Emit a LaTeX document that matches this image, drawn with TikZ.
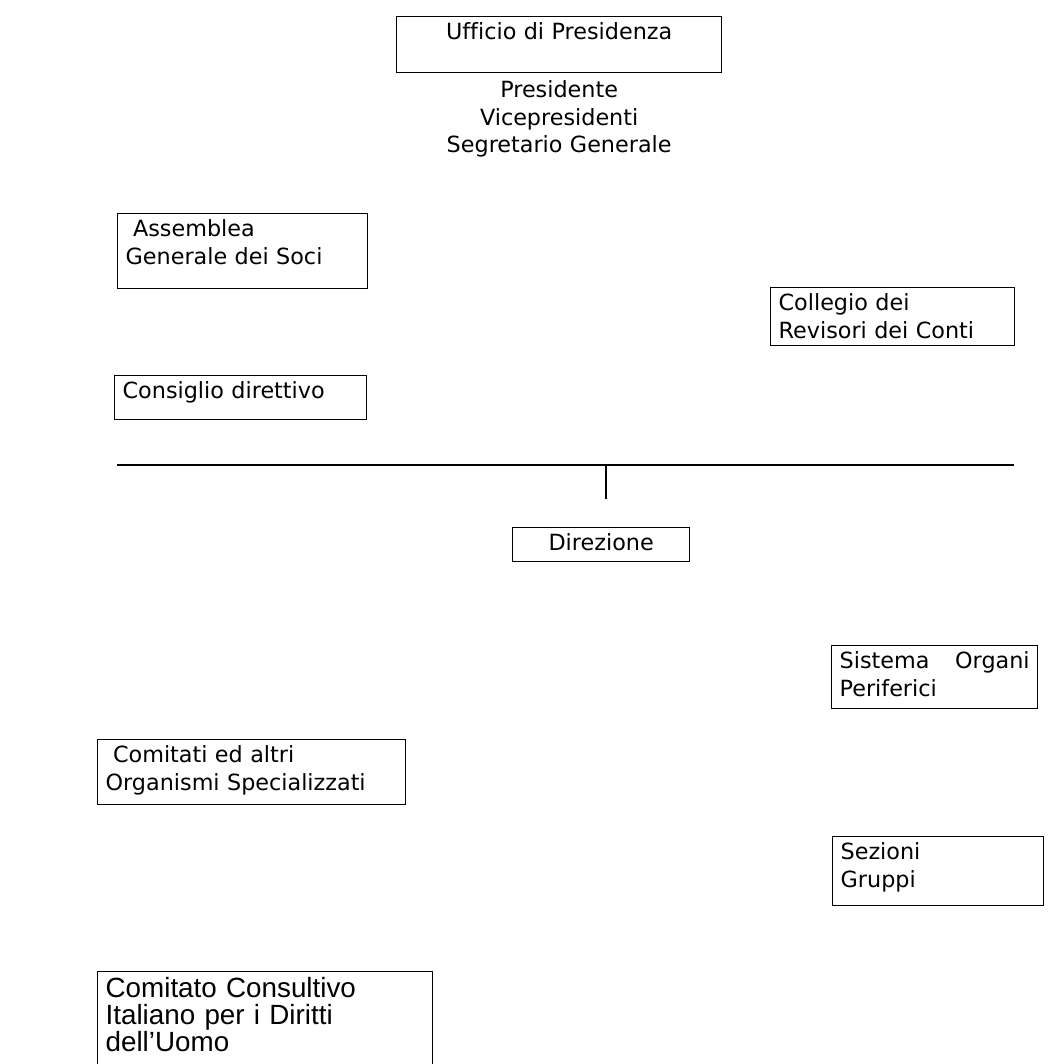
\documentclass[tikz,border=0pt]{standalone}
\usepackage{fontspec}
\setmainfont{DejaVu Sans}[Ligatures={TeX,NoCommon}]
\newfontfamily\arialfont{Liberation Sans}[Ligatures={TeX,NoCommon}]
\usepackage{tikz}
\usetikzlibrary{positioning}
\tikzset{x=1pt,y=-1pt,node distance=2cm}
\tikzset{box/.style={draw,rectangle,line width=1.3pt,anchor=north west,align=left,
    inner xsep=8pt,inner ysep=6pt,text height=17pt,
    font=\fontsize{22.3}{27.5}\selectfont}}
\tikzset{staff/.style={rectangle,align=center,inner xsep=8pt,inner ysep=6pt,
    text height=17pt,font=\fontsize{22.3}{27.5}\selectfont}}

\begin{document}
\begin{tikzpicture}
                \clip (0,0) rectangle (1064,1063);
                \fill[white] (0,0) rectangle (1064,1063);
                \node[box,align=center,text width=309pt,text depth=27pt] (ufficio) at (396,16) {Ufficio di Presidenza};
                \node[staff,text width=309pt] (cariche) [below=1pt of ufficio] {Presidente\\Vicepresidenti\\Segretario Generale};
                \node[box,text width=234pt,text depth=46pt] (assemblea) at (117,213) {\ Assemblea\\Generale dei Soci};
                \node[box,text width=236pt,text depth=15pt] (consiglio) at (114,375) {Consiglio direttivo};
                \node[box,text width=228pt,text depth=29pt] (collegio) at (770,287) {Collegio dei\\Revisori dei Conti};
                \coordinate (barL) at (117,465);
                \coordinate (barR) at (1014,465);
                \coordinate (barM) at (606,465);
                \coordinate (stub) at (606,499);
                \draw[line width=1.5pt] (barL) -- (barR);
                \draw[line width=1.5pt] (barM) -- (stub);
                \node[box,align=center,text width=161pt,text depth=5pt] (direzione) at (512,527) {Direzione};
                \node[box,text width=190pt,text depth=34pt] (organi) at (831,645) {Sistema\hskip0pt plus 1fill Organi\\Periferici};
                \node[box,text width=292pt,text depth=36pt] (comitati) at (97,739) {\ Comitati ed altri\\Organismi Specializzati};
                \node[box,text width=195pt,text depth=40pt] (sezioni) at (832,836) {Sezioni\\Gruppi};
                \node[box,text width=319pt,text height=20pt,text depth=72pt,
                    font=\arialfont\fontsize{27.8}{27}\selectfont] (consultivo) at (97,971) {Comitato Consultivo\\Italiano per i Diritti\\dell’Uomo};
            \end{tikzpicture}
\end{document}
